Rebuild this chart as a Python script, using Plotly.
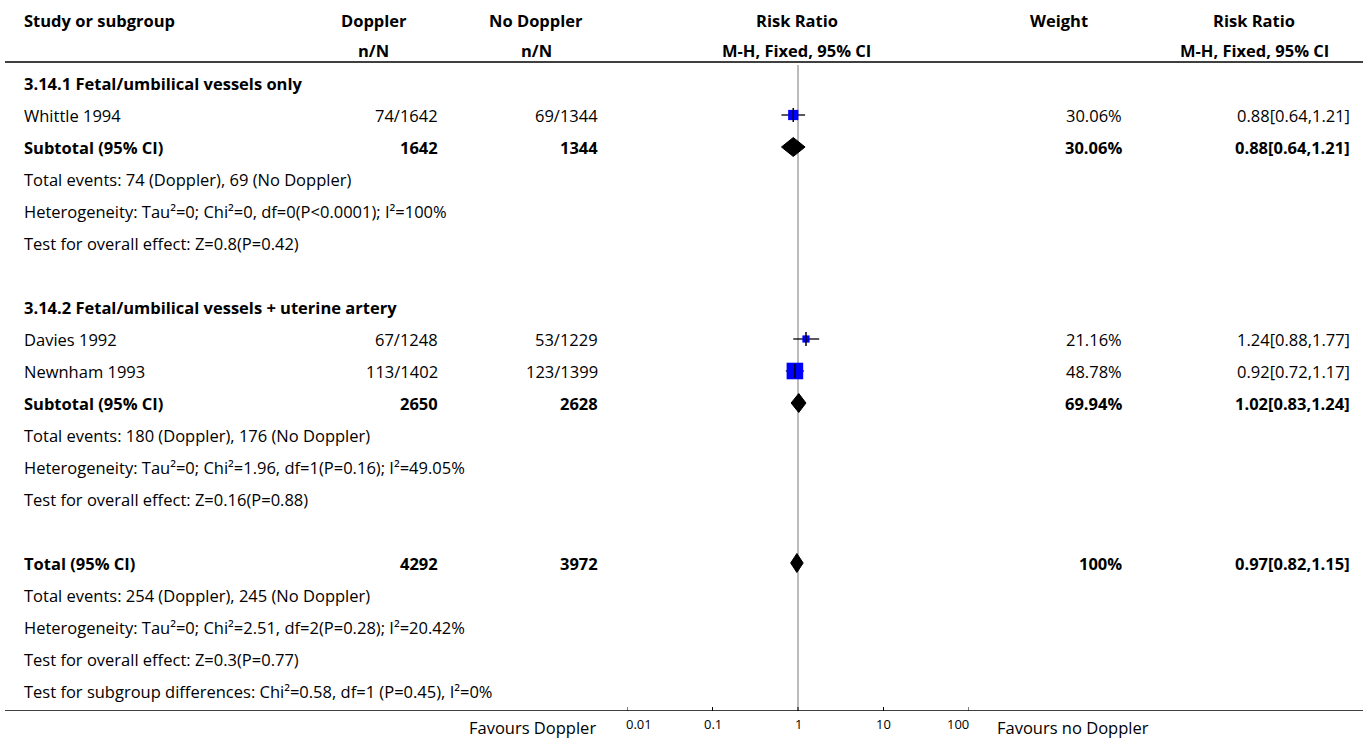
import math
import plotly.graph_objects as go

# ---------------- data ----------------
group_titles = ["3.14.1 Fetal/umbilical vessels only",
                "3.14.2 Fetal/umbilical vessels + uterine artery"]
study_names = ["Whittle 1994", "Davies 1992", "Newnham 1993"]
study_group = [0, 1, 1]
events_doppler = [74, 67, 113]
total_doppler = [1642, 1248, 1402]
events_nodoppler = [69, 53, 123]
total_nodoppler = [1344, 1229, 1399]
study_rr = [0.88, 1.24, 0.92]
study_lo = [0.64, 0.88, 0.72]
study_hi = [1.21, 1.77, 1.17]
study_weight = [30.06, 21.16, 48.78]

sub_N_doppler = [1642, 2650]
sub_N_nodoppler = [1344, 2628]
sub_rr = [0.88, 1.02]
sub_lo = [0.64, 0.83]
sub_hi = [1.21, 1.24]
sub_weight = [30.06, 69.94]
sub_events = ["Total events: 74 (Doppler), 69 (No Doppler)",
              "Total events: 180 (Doppler), 176 (No Doppler)"]
sub_het = ["Heterogeneity: Tau²=0; Chi²=0, df=0(P<0.0001); I²=100%",
           "Heterogeneity: Tau²=0; Chi²=1.96, df=1(P=0.16); I²=49.05%"]
sub_test = ["Test for overall effect: Z=0.8(P=0.42)",
            "Test for overall effect: Z=0.16(P=0.88)"]

tot_N_doppler = 4292
tot_N_nodoppler = 3972
tot_rr = 0.97
tot_lo = 0.82
tot_hi = 1.15
tot_weight = 100
tot_lines = ["Total events: 254 (Doppler), 245 (No Doppler)",
             "Heterogeneity: Tau²=0; Chi²=2.51, df=2(P=0.28); I²=20.42%",
             "Test for overall effect: Z=0.3(P=0.77)",
             "Test for subgroup differences: Chi²=0.58, df=1 (P=0.45), I²=0%"]

tick_vals = [0.01, 0.1, 1, 10, 100]
tick_text = ["0.01", "0.1", "1", "10", "100"]
header1 = ["Study or subgroup", "Doppler", "No Doppler", "Risk Ratio", "Weight", "Risk Ratio"]
header2 = ["", "n/N", "n/N", "M-H, Fixed, 95% CI", "", "M-H, Fixed, 95% CI"]
favours = ["Favours Doppler", "Favours no Doppler"]

# ---------------- layout constants ----------------
W, H = 1370, 740
FONT = "'Open Sans', Roboto, sans-serif"
FS = 16.5
ROW_TOP = 83      # pixel centre of first row
ROW_H = 32        # row pitch in px
AX_Y = 711        # pixel of bottom axis line


def px(x):
    return x / W


def py(y):
    return 1 - y / H


def fmt_w(w):
    return f"{w:g}%" if w == int(w) else f"{w:.2f}%"


def fmt_ci(r, l, h):
    return f"{r:.2f}[{l:.2f},{h:.2f}]"


# build the rows
rows = []
for g, title in enumerate(group_titles):
    rows.append(dict(kind="title", label=title))
    for i, name in enumerate(study_names):
        if study_group[i] == g:
            rows.append(dict(kind="study", label=name,
                             c1=f"{events_doppler[i]}/{total_doppler[i]}",
                             c2=f"{events_nodoppler[i]}/{total_nodoppler[i]}",
                             w=fmt_w(study_weight[i]),
                             ci=fmt_ci(study_rr[i], study_lo[i], study_hi[i]),
                             rr=study_rr[i], lo=study_lo[i], hi=study_hi[i],
                             wt=study_weight[i]))
    rows.append(dict(kind="sub", label="Subtotal (95% CI)",
                     c1=str(sub_N_doppler[g]), c2=str(sub_N_nodoppler[g]),
                     w=fmt_w(sub_weight[g]),
                     ci=fmt_ci(sub_rr[g], sub_lo[g], sub_hi[g]),
                     rr=sub_rr[g], lo=sub_lo[g], hi=sub_hi[g]))
    for t in (sub_events[g], sub_het[g], sub_test[g]):
        rows.append(dict(kind="text", label=t))
    rows.append(dict(kind="blank", label=""))
rows.append(dict(kind="sub", label="Total (95% CI)",
                 c1=str(tot_N_doppler), c2=str(tot_N_nodoppler),
                 w=fmt_w(tot_weight), ci=fmt_ci(tot_rr, tot_lo, tot_hi),
                 rr=tot_rr, lo=tot_lo, hi=tot_hi))
for t in tot_lines:
    rows.append(dict(kind="text", label=t))

# y axis in row units: pixel = ROW_TOP + ROW_H * r
r_top = -ROW_TOP / ROW_H
r_bot = (AX_Y - ROW_TOP) / ROW_H


def pr(pix):
    return (pix - ROW_TOP) / ROW_H


fig = go.Figure()
annots = []


def text(x, y, s, anchor, bold=False, size=FS, yref="y"):
    annots.append(dict(x=px(x), xref="paper", y=y, yref=yref, text=(f"<b>{s}</b>" if bold else s),
                       xanchor=anchor, yanchor="middle", showarrow=False,
                       font=dict(family=FONT, size=size, color="#000")))


# columns (pixel positions)
X_LABEL = 22
X_C1_R, X_C1_C = 440, 374
X_C2_R, X_C2_C = 600, 536
X_RR_C = 797
X_W_R, X_W_C = 1124, 1059
X_CI_R, X_CI_C = 1352, 1254

# headers
hy1, hy2 = pr(20), pr(50)
text(X_LABEL, hy1, header1[0], "left", True)
for (xc, h1, h2) in [(X_C1_C, header1[1], header2[1]), (X_C2_C, header1[2], header2[2]),
                     (X_RR_C, header1[3], header2[3]), (X_W_C, header1[4], header2[4]),
                     (X_CI_C, header1[5], header2[5])]:
    text(xc, hy1, h1, "center", True)
    if h2:
        text(xc, hy2, h2, "center", True)

for r, row in enumerate(rows):
    bold = row["kind"] in ("title", "sub")
    if row["label"]:
        text(X_LABEL, r, row["label"], "left", bold)
    if row["kind"] in ("study", "sub"):
        text(X_C1_R, r, row["c1"], "right", bold)
        text(X_C2_R, r, row["c2"], "right", bold)
        text(X_W_R, r, row["w"], "right", bold)
        text(X_CI_R, r, row["ci"], "right", bold)

# study markers
st = [(r, row) for r, row in enumerate(rows) if row["kind"] == "study"]
for r, row in st:
    fig.add_trace(go.Scatter(x=[row["lo"], row["hi"]], y=[r, r], mode="lines",
                             line=dict(color="black", width=1.3), hoverinfo="skip"))
fig.add_trace(go.Scatter(x=[row["rr"] for _, row in st], y=[r for r, _ in st], mode="markers",
                         marker=dict(symbol="square", color="#0000ff", opacity=1,
                                     size=[row["wt"] * 0.34 for _, row in st],
                                     line=dict(width=0))))
fig.add_trace(go.Scatter(x=[row["rr"] for _, row in st], y=[r for r, _ in st], mode="markers",
                         marker=dict(symbol="line-ns-open", size=10, color="black", opacity=1,
                                     line=dict(color="black", width=1.5))))
# diamonds
DH = 9.5 / ROW_H
for r, row in enumerate(rows):
    if row["kind"] == "sub":
        fig.add_trace(go.Scatter(x=[row["lo"], row["rr"], row["hi"], row["rr"], row["lo"]],
                                 y=[r, r - DH, r, r + DH, r], mode="lines", fill="toself",
                                 fillcolor="black", line=dict(color="black", width=1)))

# axis tick labels and favours labels (below the plotting area -> paper refs)
# (annotation x on a log axis is given in log10 units)
for i, (v, t) in enumerate(zip(tick_vals, tick_text)):
    anchor = "left" if i == 0 else ("right" if i == len(tick_vals) - 1 else "center")
    annots.append(dict(x=math.log10(v), xref="x", y=py(724), yref="paper", text=t, showarrow=False,
                       xanchor=anchor, yanchor="middle",
                       xshift=(-3 if i == 0 else (2 if i == len(tick_vals) - 1 else 0)),
                       font=dict(family=FONT, size=13, color="#000")))
text(598, py(727), favours[0], "right", yref="paper")
text(995, py(727), favours[1], "left", yref="paper")

shapes = [
    dict(type="line", xref="paper", yref="y", x0=px(5), x1=px(1363), y0=pr(62), y1=pr(62),
         line=dict(color="black", width=1.5)),
    dict(type="line", xref="paper", yref="y", x0=px(5), x1=px(1363), y0=pr(AX_Y), y1=pr(AX_Y),
         line=dict(color="black", width=1.5)),
    dict(type="line", xref="x", yref="y", x0=1, x1=1, y0=pr(65), y1=pr(AX_Y),
         line=dict(color="#a6a6a6", width=1.5), layer="below"),
]
# axis tick marks (short upward strokes at each tick value)
for v in tick_vals:
    shapes.append(dict(type="line", xref="x", yref="y", x0=v, x1=v, y0=pr(AX_Y - 4), y1=pr(AX_Y),
                       line=dict(color="black", width=1)))

fig.update_layout(
    width=W, height=H, margin=dict(l=0, r=0, t=0, b=0),
    paper_bgcolor="white", plot_bgcolor="rgba(0,0,0,0)", showlegend=False,
    annotations=annots, shapes=shapes,
    xaxis=dict(type="log", range=[-2, 2], domain=[px(627), px(969)],
               showgrid=False, zeroline=False, showline=False, showticklabels=False,
               ticks=""),
    yaxis=dict(range=[r_bot, r_top], domain=[1 - AX_Y / H, 1], visible=False, fixedrange=True),
)
fig.write_html("out.html", config={"displayModeBar": False},
               post_script="document.body.style.margin='0';document.body.style.overflow='hidden';")
